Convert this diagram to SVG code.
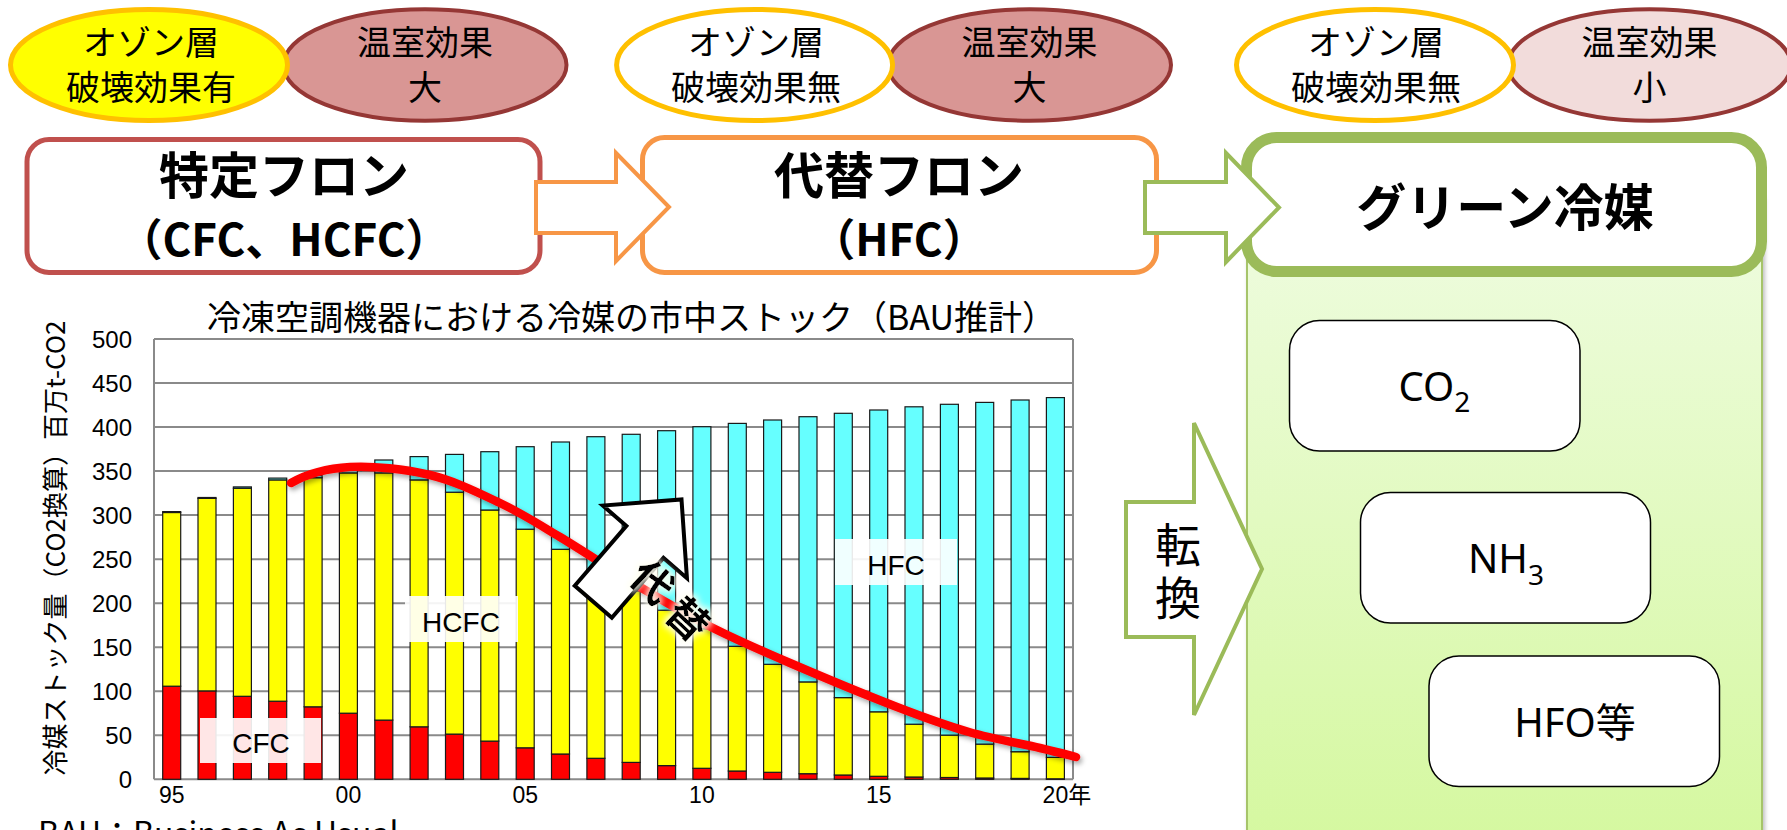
<svg xmlns="http://www.w3.org/2000/svg" width="1787" height="830" viewBox="0 0 1787 830">
<defs>
<style>
.jp{font-family:"Noto Sans CJK JP","Noto Sans CJK SC",sans-serif;fill:#000}
.lat{font-family:"Liberation Sans",Arial,sans-serif;fill:#000}
.ns{font-family:"Noto Sans","Noto Sans CJK JP",sans-serif;fill:#000}
.ell-t{font-size:34px;text-anchor:middle}
.box-t{font-size:50px;font-weight:700;text-anchor:middle}
.box-s{font-size:44px;font-weight:700;text-anchor:middle}
.oz{stroke:#FFC000;stroke-width:5}
.gh{stroke:#953735;stroke-width:4}
.grid{stroke:#8A8A8A;stroke-width:2}
.ylab{font-size:24px;text-anchor:end}
.xlab{font-size:23px;text-anchor:middle}
.r{fill:#FF0000;stroke:#1a1a1a;stroke-width:1.2}
.y{fill:#FFFF00;stroke:#1a1a1a;stroke-width:1.2}
.c{fill:#66FFFF;stroke:#1a1a1a;stroke-width:1.2}
.lblbox{fill:#fff;fill-opacity:0.9}
.lbl{font-size:28px;text-anchor:middle}
.inner{fill:#fff;stroke:#000;stroke-width:1.5}
.in-t{font-size:40px;text-anchor:middle}
.blk{fill:#fff;stroke-width:4;stroke-linejoin:miter}
</style>
<linearGradient id="panelGrad" x1="0" y1="0" x2="0" y2="1">
<stop offset="0" stop-color="#EFFCE1"/>
<stop offset="1" stop-color="#D5F8A0"/>
</linearGradient>
<filter id="shadow" x="-5%" y="-30%" width="110%" height="160%">
<feDropShadow dx="2" dy="3" stdDeviation="2.5" flood-color="#000" flood-opacity="0.35"/>
</filter>
<filter id="glow" x="-50%" y="-50%" width="200%" height="200%">
<feMorphology in="SourceAlpha" operator="dilate" radius="2" result="d"/>
<feGaussianBlur in="d" stdDeviation="3" result="b"/>
<feFlood flood-color="#FFFFF0" flood-opacity="0.9"/>
<feComposite in2="b" operator="in" result="g"/>
<feMerge><feMergeNode in="g"/><feMergeNode in="SourceGraphic"/></feMerge>
</filter>
<filter id="pshadow" x="-5%" y="-5%" width="110%" height="110%">
<feDropShadow dx="2" dy="0" stdDeviation="2" flood-color="#000" flood-opacity="0.25"/>
</filter>
</defs>
<rect width="1787" height="830" fill="#fff"/>

<!-- top ellipses -->
<g id="ghg-cfc">
<ellipse cx="425" cy="65" rx="141.5" ry="55.7" fill="#D99694" class="gh"/>
<text class="jp ell-t" x="425" y="55">温室効果</text>
<text class="jp ell-t" x="425" y="100">大</text>
</g>
<g id="ozone-cfc">
<ellipse cx="149" cy="65" rx="138.5" ry="55.5" fill="#FFFF00" class="oz"/>
<text class="jp ell-t" x="151" y="55">オゾン層</text>
<text class="jp ell-t" x="151" y="100">破壊効果有</text>
</g>
<g id="ghg-hfc">
<ellipse cx="1029.5" cy="65" rx="141.5" ry="55.7" fill="#D99694" class="gh"/>
<text class="jp ell-t" x="1029.5" y="55">温室効果</text>
<text class="jp ell-t" x="1029.5" y="100">大</text>
</g>
<g id="ozone-hfc">
<ellipse cx="754.6" cy="65" rx="138" ry="55.5" fill="#FFFFFF" class="oz"/>
<text class="jp ell-t" x="756" y="55">オゾン層</text>
<text class="jp ell-t" x="756" y="100">破壊効果無</text>
</g>
<g id="ghg-green">
<ellipse cx="1649.5" cy="65" rx="141.5" ry="55.7" fill="#F2DCDB" class="gh"/>
<text class="jp ell-t" x="1649.5" y="55">温室効果</text>
<text class="jp ell-t" x="1649.5" y="100">小</text>
</g>
<g id="ozone-green">
<ellipse cx="1375" cy="65" rx="138.5" ry="55.5" fill="#FFFFFF" class="oz"/>
<text class="jp ell-t" x="1376" y="55">オゾン層</text>
<text class="jp ell-t" x="1376" y="100">破壊効果無</text>
</g>

<!-- main boxes -->
<g id="box-cfc">
<rect x="27" y="139.5" width="513" height="133" rx="22" fill="#fff" stroke="#C0504D" stroke-width="5"/>
<text class="jp box-t" x="284" y="194">特定フロン</text>
<text class="jp box-s" x="284" y="256">（CFC、HCFC）</text>
</g>
<g id="box-hfc">
<rect x="642.5" y="137.5" width="514" height="135" rx="22" fill="#fff" stroke="#F79646" stroke-width="5"/>
<text class="jp box-t" x="899" y="194">代替フロン</text>
<text class="jp box-s" x="899" y="256">（HFC）</text>
</g>
<g id="panel-green">
<rect x="1247" y="200" width="515" height="640" fill="url(#panelGrad)" stroke="#A6C46A" stroke-width="2" filter="url(#pshadow)"/>
</g>
<g id="box-green">
<rect x="1246.5" y="137.5" width="515" height="134" rx="30" fill="#fff" stroke="#9BBB59" stroke-width="11"/>
<text class="jp box-t" x="1505" y="226">グリーン冷媒</text>
</g>
<g id="node-co2">
<rect class="inner" x="1289.5" y="320.5" width="290.5" height="130.5" rx="30"/>
<text class="ns in-t" x="1434.5" y="401">CO<tspan dy="11" font-size="28">2</tspan></text>
</g>
<g id="node-nh3">
<rect class="inner" x="1360.5" y="492.5" width="290" height="130.5" rx="30"/>
<text class="ns in-t" x="1506" y="573">NH<tspan dy="12" font-size="28">3</tspan></text>
</g>
<g id="node-hfo">
<rect class="inner" x="1429" y="656" width="290.5" height="130.5" rx="30"/>
<text class="ns in-t" x="1575" y="737">HFO<tspan class="jp">等</tspan></text>
</g>

<!-- chart -->
<g id="chart">
<text class="jp" x="207" y="330" font-size="34">冷凍空調機器における冷媒の市中ストック（BAU推計）</text>
<g>
<line class="grid" x1="154" y1="339" x2="1073" y2="339"/>
<line class="grid" x1="154" y1="383" x2="1073" y2="383"/>
<line class="grid" x1="154" y1="427.1" x2="1073" y2="427.1"/>
<line class="grid" x1="154" y1="471.1" x2="1073" y2="471.1"/>
<line class="grid" x1="154" y1="515.1" x2="1073" y2="515.1"/>
<line class="grid" x1="154" y1="559.2" x2="1073" y2="559.2"/>
<line class="grid" x1="154" y1="603.2" x2="1073" y2="603.2"/>
<line class="grid" x1="154" y1="647.2" x2="1073" y2="647.2"/>
<line class="grid" x1="154" y1="691.2" x2="1073" y2="691.2"/>
<line class="grid" x1="154" y1="735.3" x2="1073" y2="735.3"/>
<line class="grid" x1="154" y1="779.3" x2="1073" y2="779.3"/>
<line class="grid" x1="154" y1="339" x2="154" y2="779.3"/>
<line class="grid" x1="1073" y1="339" x2="1073" y2="779.3"/>
</g>
<g class="lat ylab">
<text x="132" y="347.6">500</text>
<text x="132" y="391.6">450</text>
<text x="132" y="435.7">400</text>
<text x="132" y="479.7">350</text>
<text x="132" y="523.7">300</text>
<text x="132" y="567.8">250</text>
<text x="132" y="611.8">200</text>
<text x="132" y="655.8">150</text>
<text x="132" y="699.8">100</text>
<text x="132" y="743.9">50</text>
<text x="132" y="787.9">0</text>
</g>
<g class="lat xlab">
<text x="171.7" y="803">95</text>
<text x="348.4" y="803">00</text>
<text x="525.2" y="803">05</text>
<text x="701.9" y="803">10</text>
<text x="878.7" y="803">15</text>
<text x="1042.6" y="803" text-anchor="start">20<tspan class="jp">年</tspan></text>
</g>
<text class="jp" font-size="26" text-anchor="middle" transform="translate(65,548) rotate(-90)">冷媒ストック量（CO2換算）百万t-CO2</text>
<g id="bars">
<rect class="r" x="162.7" y="686.2" width="18" height="93.1"/><rect class="y" x="162.7" y="512.5" width="18" height="173.7"/><rect class="c" x="162.7" y="511.6" width="18" height="0.9"/>
<rect class="r" x="198" y="690.9" width="18" height="88.4"/><rect class="y" x="198" y="498.4" width="18" height="192.5"/><rect class="c" x="198" y="497.5" width="18" height="0.9"/>
<rect class="r" x="233.4" y="696.3" width="18" height="83"/><rect class="y" x="233.4" y="488.3" width="18" height="208"/><rect class="c" x="233.4" y="486.9" width="18" height="1.4"/>
<rect class="r" x="268.7" y="701.2" width="18" height="78.1"/><rect class="y" x="268.7" y="479.9" width="18" height="221.3"/><rect class="c" x="268.7" y="478.1" width="18" height="1.8"/>
<rect class="r" x="304.1" y="706.8" width="18" height="72.5"/><rect class="y" x="304.1" y="477.7" width="18" height="229.1"/><rect class="c" x="304.1" y="475.5" width="18" height="2.2"/>
<rect class="r" x="339.4" y="713.2" width="18" height="66.1"/><rect class="y" x="339.4" y="472.9" width="18" height="240.3"/><rect class="c" x="339.4" y="470.2" width="18" height="2.7"/>
<rect class="r" x="374.8" y="720.1" width="18" height="59.2"/><rect class="y" x="374.8" y="472.9" width="18" height="247.2"/><rect class="c" x="374.8" y="460" width="18" height="12.9"/>
<rect class="r" x="410.1" y="726.8" width="18" height="52.5"/><rect class="y" x="410.1" y="479.9" width="18" height="246.9"/><rect class="c" x="410.1" y="456.6" width="18" height="23.3"/>
<rect class="r" x="445.5" y="734.1" width="18" height="45.2"/><rect class="y" x="445.5" y="492.2" width="18" height="241.9"/><rect class="c" x="445.5" y="454.4" width="18" height="37.8"/>
<rect class="r" x="480.8" y="741.1" width="18" height="38.2"/><rect class="y" x="480.8" y="510" width="18" height="231.1"/><rect class="c" x="480.8" y="451.7" width="18" height="58.3"/>
<rect class="r" x="516.2" y="747.8" width="18" height="31.5"/><rect class="y" x="516.2" y="529.2" width="18" height="218.6"/><rect class="c" x="516.2" y="446.7" width="18" height="82.5"/>
<rect class="r" x="551.5" y="754" width="18" height="25.3"/><rect class="y" x="551.5" y="549.3" width="18" height="204.7"/><rect class="c" x="551.5" y="442" width="18" height="107.3"/>
<rect class="r" x="586.9" y="758.3" width="18" height="21"/><rect class="y" x="586.9" y="569.7" width="18" height="188.6"/><rect class="c" x="586.9" y="436.7" width="18" height="133"/>
<rect class="r" x="622.2" y="762.4" width="18" height="16.9"/><rect class="y" x="622.2" y="590.8" width="18" height="171.6"/><rect class="c" x="622.2" y="434.3" width="18" height="156.5"/>
<rect class="r" x="657.6" y="765.6" width="18" height="13.7"/><rect class="y" x="657.6" y="610.2" width="18" height="155.4"/><rect class="c" x="657.6" y="430.7" width="18" height="179.5"/>
<rect class="r" x="692.9" y="768.3" width="18" height="11"/><rect class="y" x="692.9" y="628.7" width="18" height="139.6"/><rect class="c" x="692.9" y="426.7" width="18" height="202"/>
<rect class="r" x="728.3" y="771" width="18" height="8.3"/><rect class="y" x="728.3" y="646.3" width="18" height="124.7"/><rect class="c" x="728.3" y="423.4" width="18" height="222.9"/>
<rect class="r" x="763.6" y="772.3" width="18" height="7"/><rect class="y" x="763.6" y="664.3" width="18" height="108"/><rect class="c" x="763.6" y="420" width="18" height="244.3"/>
<rect class="r" x="799" y="773.7" width="18" height="5.6"/><rect class="y" x="799" y="681.9" width="18" height="91.8"/><rect class="c" x="799" y="416.7" width="18" height="265.2"/>
<rect class="r" x="834.3" y="775" width="18" height="4.3"/><rect class="y" x="834.3" y="697.6" width="18" height="77.4"/><rect class="c" x="834.3" y="413.3" width="18" height="284.3"/>
<rect class="r" x="869.7" y="776.3" width="18" height="3"/><rect class="y" x="869.7" y="711.8" width="18" height="64.5"/><rect class="c" x="869.7" y="410" width="18" height="301.8"/>
<rect class="r" x="905" y="777" width="18" height="2.3"/><rect class="y" x="905" y="724.2" width="18" height="52.8"/><rect class="c" x="905" y="406.8" width="18" height="317.4"/>
<rect class="r" x="940.4" y="777.5" width="18" height="1.8"/><rect class="y" x="940.4" y="735.1" width="18" height="42.4"/><rect class="c" x="940.4" y="404.3" width="18" height="330.8"/>
<rect class="r" x="975.7" y="778" width="18" height="1.3"/><rect class="y" x="975.7" y="744.1" width="18" height="33.9"/><rect class="c" x="975.7" y="402.4" width="18" height="341.7"/>
<rect class="r" x="1011.1" y="778.4" width="18" height="0.9"/><rect class="y" x="1011.1" y="751.7" width="18" height="26.7"/><rect class="c" x="1011.1" y="400" width="18" height="351.7"/>
<rect class="r" x="1046.4" y="778.8" width="18" height="0.5"/><rect class="y" x="1046.4" y="757.4" width="18" height="21.4"/><rect class="c" x="1046.4" y="397.6" width="18" height="359.8"/>
</g>
<rect class="lblbox" x="200" y="718" width="121" height="45"/>
<text class="lat lbl" x="261" y="753">CFC</text>
<rect class="lblbox" x="405" y="596" width="113" height="46"/>
<text class="lat lbl" x="461" y="632">HCFC</text>
<rect class="lblbox" x="835" y="539" width="122" height="46"/>
<text class="lat lbl" x="896" y="575">HFC</text>
<path d="M291,483 C305,475 326.8,468.3 350,467 C373.2,465.7 405,469 430,475 C455,481 478.3,492.7 500,503 C521.7,513.3 536.7,523 560,537 C583.3,551 614.8,572 640,587 C665.2,602 686,614.3 711,627 C736,639.7 759,649.7 790,663 C821,676.3 867.2,695.5 897,707 C926.8,718.5 945.2,725.2 969,732 C992.8,738.8 1022.2,743.8 1040,748 C1057.8,752.2 1070,755.5 1076,757" fill="none" stroke="#FF0000" stroke-width="8.5" stroke-linecap="round" filter="url(#shadow)"/>
<text class="jp" x="38" y="845" font-size="32">BAU：Business As Usual</text>
</g>

<!-- connectors -->
<g id="connectors">
<polygon class="blk" stroke="#F79646" points="536,182 616,182 616,153 669,207 616,261 616,233 536,233"/>
<polygon class="blk" stroke="#9BBB59" points="1145,182 1226,182 1226,153 1279,207.5 1226,262 1226,233 1145,233"/>
<polygon class="blk" stroke="#9BBB59" stroke-width="5" points="1126,502 1194,502 1194,423 1262,569 1194,715 1194,637 1126,637"/>
<polygon class="blk" stroke="#000" transform="translate(637.4,550.6) rotate(-49.2)" points="-67.5,-24.5 11.5,-24.5 11.5,-55.5 67.5,0 11.5,55.5 11.5,24.5 -67.5,24.5"/>
</g>

<!-- connector labels -->
<g id="label-tenkan">
<text class="jp" x="1178" y="562" font-size="46" text-anchor="middle">転</text>
<text class="jp" x="1178" y="615" font-size="46" text-anchor="middle">換</text>
</g>
<g id="label-daitai" filter="url(#glow)">
<text class="jp" font-size="41" font-weight="700" text-anchor="middle" transform="translate(652,582) rotate(43)" y="15">代</text>
<text class="jp" font-size="41" font-weight="700" text-anchor="middle" transform="translate(688,619) rotate(43)" y="15">替</text>
</g>
</svg>
